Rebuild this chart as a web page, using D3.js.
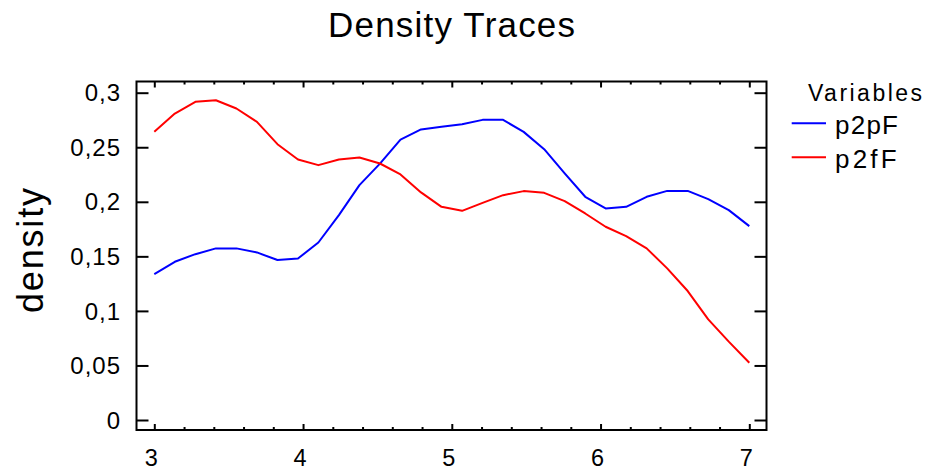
<!DOCTYPE html>
<html>
<head>
<meta charset="utf-8">
<script src="https://cdn.jsdelivr.net/npm/d3@7"></script>
<style>
  html, body { margin: 0; padding: 0; background: #fff; }
  svg { display: block; font-family: "Liberation Sans", Arial, sans-serif; }
</style>
</head>
<body>
<svg id="chart" width="928" height="470"></svg>
<script>
// ---- data ----
const xValues = [3.000, 3.138, 3.276, 3.414, 3.552, 3.690, 3.828, 3.966, 4.103, 4.241,
                 4.379, 4.517, 4.655, 4.793, 4.931, 5.069, 5.207, 5.345, 5.483, 5.621,
                 5.759, 5.897, 6.034, 6.172, 6.310, 6.448, 6.586, 6.724, 6.862, 7.000];
const p2pF = [0.1337, 0.1450, 0.1520, 0.1573, 0.1573, 0.1536, 0.1466, 0.1480, 0.1627, 0.1878,
              0.2153, 0.2350, 0.2570, 0.2663, 0.2687, 0.2711, 0.2751, 0.2751, 0.2641, 0.2482,
              0.2260, 0.2046, 0.1939, 0.1954, 0.2046, 0.2100, 0.2100, 0.2024, 0.1924, 0.1777];
const p2fF = [0.2641, 0.2809, 0.2916, 0.2931, 0.2855, 0.2733, 0.2528, 0.2388, 0.2336, 0.2388,
              0.2406, 0.2351, 0.2251, 0.2086, 0.1954, 0.1917, 0.1990, 0.2061, 0.2098, 0.2082,
              0.2006, 0.1893, 0.1771, 0.1685, 0.1573, 0.1390, 0.1182, 0.0922, 0.0718, 0.0525];
const seriesNames = ["p2pF", "p2fF"];
const seriesColors = ["#0000ff", "#ff0000"];
const xTickValues = [3, 4, 5, 6, 7];
const xMinorTickValues = [3.2, 3.4, 3.6, 3.8, 4.2, 4.4, 4.6, 4.8, 5.2, 5.4, 5.6, 5.8, 6.2, 6.4, 6.6, 6.8];
const yTickValues = [0, 0.05, 0.1, 0.15, 0.2, 0.25, 0.3];
const yTickLabels = ["0", "0,05", "0,1", "0,15", "0,2", "0,25", "0,3"];
const titleText = "Density Traces";
const yLabelText = "density";
const legendTitle = "Variables";

// ---- layout ----
const frame = { left: 136.5, right: 766.5, top: 81.5, bottom: 430 };
const svg = d3.select("#chart");

const x = d3.scaleLinear().domain([3, 7]).range([154.3, 749.3]);
const y = d3.scaleLinear().domain([0, 0.3]).range([420, 92.7]);

// title
svg.append("text")
  .attr("x", 451.5).attr("y", 37)
  .attr("text-anchor", "middle")
  .attr("font-size", 35)
  .attr("textLength", 247)
  .text(titleText);

// y label
svg.append("text")
  .attr("transform", "translate(43,250.5) rotate(-90)")
  .attr("text-anchor", "middle")
  .attr("font-size", 36)
  .attr("textLength", 125)
  .text(yLabelText);

// frame
svg.append("rect")
  .attr("x", frame.left).attr("y", frame.top)
  .attr("width", frame.right - frame.left)
  .attr("height", frame.bottom - frame.top)
  .attr("fill", "none").attr("stroke", "#000").attr("stroke-width", 2);

const tickStyle = g => g.select(".domain").remove();

// left / right y axes (ticks inward)
svg.append("g").attr("transform", `translate(${frame.left},0)`)
  .call(d3.axisRight(y).tickValues(yTickValues).tickSize(12).tickFormat(""))
  .call(tickStyle);
svg.append("g").attr("transform", `translate(${frame.right},0)`)
  .call(d3.axisLeft(y).tickValues(yTickValues).tickSize(12).tickFormat(""))
  .call(tickStyle);
// bottom major/minor
svg.append("g").attr("transform", `translate(0,${frame.bottom})`)
  .call(d3.axisTop(x).tickValues(xTickValues).tickSize(6).tickFormat(""))
  .call(tickStyle);
svg.append("g").attr("transform", `translate(0,${frame.bottom})`)
  .call(d3.axisTop(x).tickValues(xMinorTickValues).tickSize(3).tickFormat(""))
  .call(tickStyle);
// top major/minor
svg.append("g").attr("transform", `translate(0,${frame.top})`)
  .call(d3.axisBottom(x).tickValues(xTickValues).tickSize(6).tickFormat(""))
  .call(tickStyle);
svg.append("g").attr("transform", `translate(0,${frame.top})`)
  .call(d3.axisBottom(x).tickValues(xMinorTickValues).tickSize(3).tickFormat(""))
  .call(tickStyle);

svg.selectAll(".tick line").attr("stroke", "#000").attr("stroke-width", 2);

// y tick labels
svg.append("g").selectAll("text")
  .data(yTickValues)
  .join("text")
  .attr("x", 121)
  .attr("y", d => y(d))
  .attr("dy", "0.36em")
  .attr("text-anchor", "end")
  .attr("font-size", 24)
  .attr("letter-spacing", 1)
  .text((d, i) => yTickLabels[i]);

// x tick labels
svg.append("g").selectAll("text")
  .data(xTickValues)
  .join("text")
  .attr("x", d => x(d) - 3)
  .attr("y", 465.5)
  .attr("text-anchor", "middle")
  .attr("font-size", 23.5)
  .text(d => d);

// lines
const line = d3.line().x((d, i) => x(xValues[i])).y(d => y(d));
[p2pF, p2fF].forEach((vals, k) => {
  svg.append("path")
    .datum(vals)
    .attr("d", line)
    .attr("fill", "none")
    .attr("stroke", seriesColors[k])
    .attr("stroke-width", 2)
    .attr("stroke-linejoin", "round");
});

// legend
svg.append("text")
  .attr("x", 808).attr("y", 100.5)
  .attr("font-size", 23)
  .attr("textLength", 114)
  .text(legendTitle);
const legendYs = [123.3, 157.3];
const legendLens = [63, 61.7];
seriesNames.forEach((name, k) => {
  svg.append("line")
    .attr("x1", 791.7).attr("x2", 826)
    .attr("y1", legendYs[k]).attr("y2", legendYs[k])
    .attr("stroke", seriesColors[k]).attr("stroke-width", 2);
  svg.append("text")
    .attr("x", 835).attr("y", legendYs[k] + 11)
    .attr("font-size", 26)
    .attr("textLength", legendLens[k])
    .text(name);
});
</script>
</body>
</html>
